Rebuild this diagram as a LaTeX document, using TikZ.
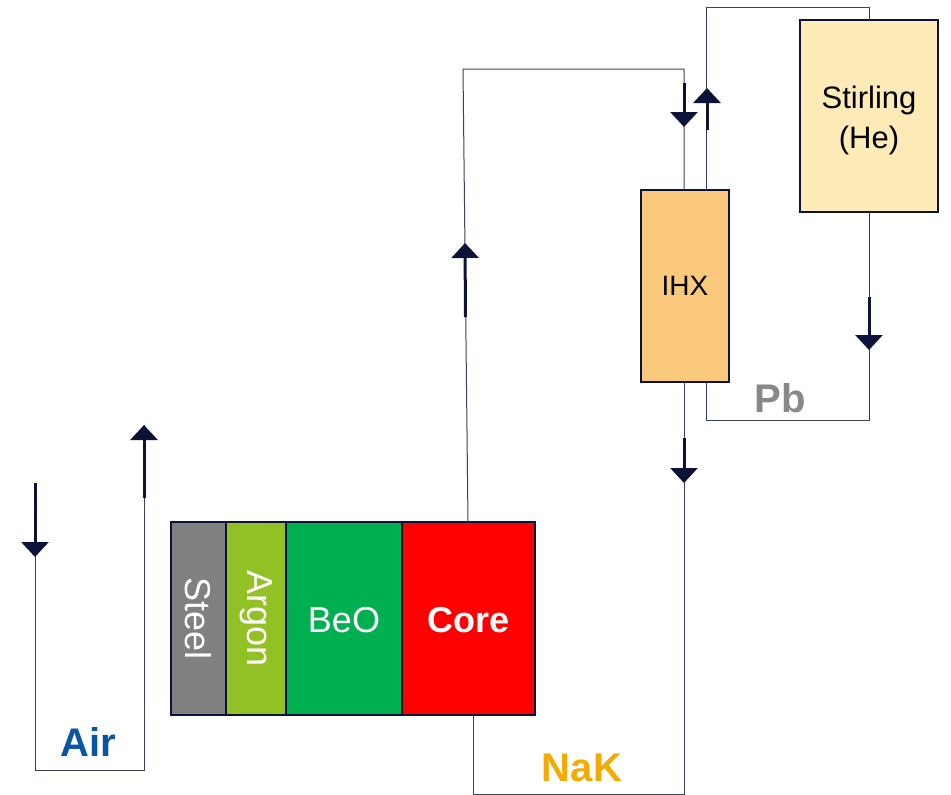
\documentclass[tikz,border=0pt]{standalone}
\usepackage{fontspec}
\setmainfont{Liberation Sans}
\usetikzlibrary{arrows.meta}
\definecolor{navy}{HTML}{0D1238}
\definecolor{thinline}{HTML}{3A3F60}
\definecolor{steelc}{HTML}{808080}
\definecolor{argonc}{HTML}{92C125}
\definecolor{beoc}{HTML}{00B050}
\definecolor{corec}{HTML}{FF0000}
\definecolor{ihxc}{HTML}{FBC97B}
\definecolor{stirc}{HTML}{FFEBB7}
\definecolor{airc}{HTML}{0B56A4}
\definecolor{nakc}{HTML}{F4AA00}
\definecolor{pbc}{HTML}{888888}
\begin{document}
\begin{tikzpicture}[x=1pt,y=-1pt,
  layer/.style={draw=navy, line width=2pt, inner sep=0pt, minimum height=193pt, text=white},
  hxbox/.style={draw=navy, line width=2pt, inner sep=0pt, minimum height=192pt, align=center},
  pipe/.style={draw=thinline, line width=1pt},
  flow/.style={draw=navy, line width=3pt, -{Triangle[width=27pt,length=15pt]}},
  big/.style={font=\fontsize{36}{40}\selectfont},
  label/.style={font=\bfseries\fontsize{40}{44}\selectfont}]
\useasboundingbox (0,0) rectangle (951,795);

% reactor layers
\node[layer, fill=steelc, minimum width=55pt] (steelbox) at (198.5,618.5) {};
\node[big, text=white, rotate=-90] (steeltext) at (steelbox.center) {Steel};
\node[layer, fill=argonc, minimum width=60pt] (argon) at (256,618.5) {};
\node[big, text=white, rotate=-90] (argontext) at (argon.center) {Argon};
\node[layer, fill=beoc, minimum width=116pt] (beo) at (344,618.5) {};
\node[big, text=white] (beotext) at (344,620) {BeO};
\node[layer, fill=corec, minimum width=133pt] (core) at (468.5,618.5) {};
\node[text=white, font=\bfseries\fontsize{36}{40}\selectfont] (coretext) at (468.5,620) {Core};

% heat exchangers
\node[hxbox, fill=ihxc, minimum width=88pt, font=\fontsize{28}{32}\selectfont] (ihx) at (685,286) {IHX};
\node[hxbox, fill=stirc, minimum width=138pt] (stir) at (869,116) {};
\node[font=\fontsize{31}{40}\selectfont, align=center] (stirtext) at (869,120) {Stirling\\(He)};

% coordinates
\coordinate (coretop) at (468,522);
\coordinate (c1) at (463,69);
\coordinate (c2) at (684,69);
\coordinate (ihxinL) at (684,190);
\coordinate (ihxinR) at (706,190);
\coordinate (s1) at (706,7);
\coordinate (s2) at (869,7);
\coordinate (stirtop) at (869,20);
\coordinate (stirbot) at (869,212);
\coordinate (p1) at (869,420);
\coordinate (p2) at (706,420);
\coordinate (ihxoutR) at (706,382);
\coordinate (ihxoutL) at (684,382);
\coordinate (n1) at (684,794);
\coordinate (n2) at (473,794);
\coordinate (corebot) at (473,715);
\coordinate (a1) at (35,483);
\coordinate (a2) at (35,770);
\coordinate (a3) at (144,770);
\coordinate (a4) at (144,425);

% pipes
\draw[pipe] (coretop) -- (c1) -- (c2) -- (ihxinL);
\draw[pipe] (ihxinR) -- (s1) -- (s2) -- (stirtop);
\draw[pipe] (stirbot) -- (p1) -- (p2) -- (ihxoutR);
\draw[pipe] (ihxoutL) -- (n1) -- (n2) -- (corebot);
\draw[pipe] (a1) -- (a2) -- (a3) -- (a4);

% flow arrows
\coordinate (f1s) at (35,483);   \coordinate (f1e) at (35,557);
\coordinate (f2s) at (144,498);  \coordinate (f2e) at (144,425);
\coordinate (f3s) at (465.5,317); \coordinate (f3e) at (465,243);
\coordinate (f4s) at (684,83);   \coordinate (f4e) at (684,127);
\coordinate (f5s) at (707,130);  \coordinate (f5e) at (707,88);
\coordinate (f6s) at (869,297);  \coordinate (f6e) at (869,350);
\coordinate (f7s) at (684,438);  \coordinate (f7e) at (684,483);
\draw[flow] (f1s) -- (f1e);
\draw[flow] (f2s) -- (f2e);
\draw[flow] (f3s) -- (f3e);
\draw[flow] (f4s) -- (f4e);
\draw[flow] (f5s) -- (f5e);
\draw[flow] (f6s) -- (f6e);
\draw[flow] (f7s) -- (f7e);

% labels
\node[label, text=airc] (air) at (88,742) {Air};
\node[label, text=nakc] (nak) at (582,768) {NaK};
\node[label, text=pbc] (pb) at (780,398) {Pb};
\end{tikzpicture}
\end{document}
